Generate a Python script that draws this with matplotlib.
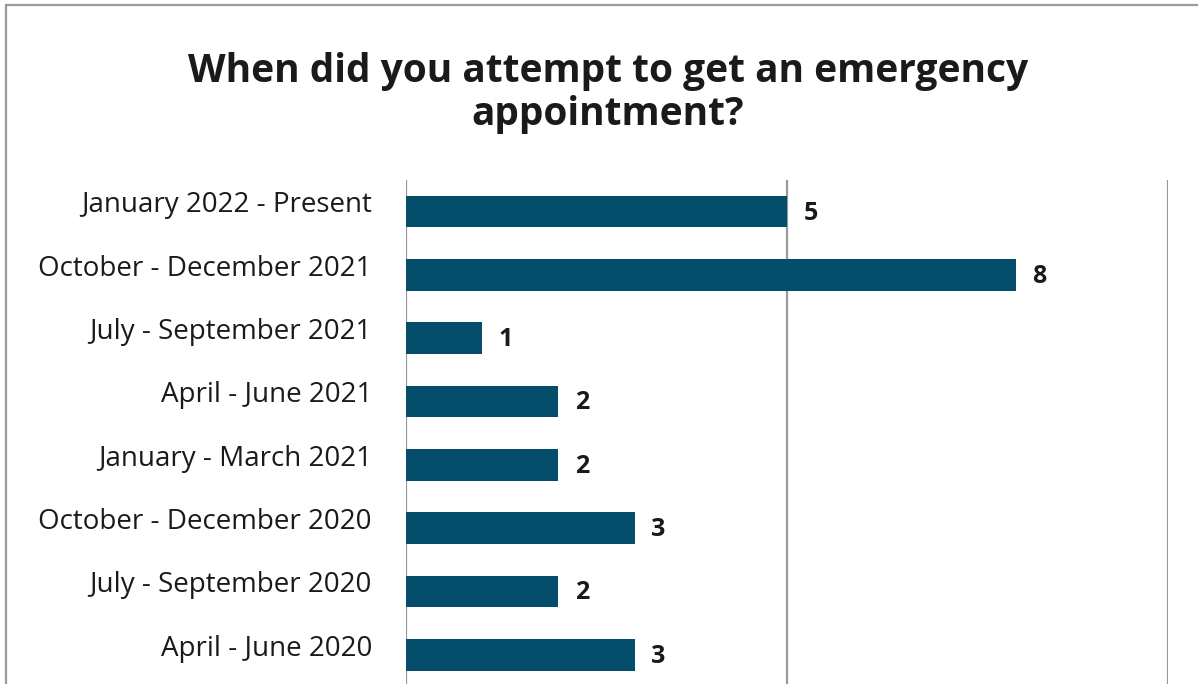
import matplotlib.pyplot as plt
from matplotlib.patches import Rectangle

categories = [
    'January 2022 - Present',
    'October - December 2021',
    'July - September 2021',
    'April - June 2021',
    'January - March 2021',
    'October - December 2020',
    'July - September 2020',
    'April - June 2020',
]
counts = [5, 8, 1, 2, 2, 3, 2, 3]

bar_color = '#044d6b'
grid_color = '#9a9a9a'
text_color = '#1a1a1a'

plt.rcParams['font.family'] = ['Open Sans', 'DejaVu Sans']

fig = plt.figure(figsize=(11.98, 6.84), dpi=100)
ax = fig.add_axes([406 / 1198, 0.0, (1168 - 406) / 1198, (684 - 180) / 684])

pos = list(range(len(categories)))
ax.barh(pos, counts, height=0.5, color=bar_color, zorder=3)

# value labels next to each bar
for y, v in zip(pos, counts):
    ax.annotate(str(v), xy=(v, y), xytext=(12, -1), textcoords='offset points',
                va='center', ha='left', fontsize=18, fontweight='bold',
                color=text_color)

# category labels, sitting a little above bar centre
for y, cat in zip(pos, categories):
    ax.annotate(cat, xy=(0, y), xytext=(-24.5, 4.5), textcoords='offset points',
                va='center', ha='right', fontsize=20, color=text_color,
                annotation_clip=False)

ax.set_xlim(0, 10)
ax.set_ylim(7.46, -0.5)
ax.set_xticks([0, 5, 10])
ax.xaxis.grid(True, color=grid_color, linewidth=1.6, zorder=0)
ax.tick_params(axis='x', length=0, labelbottom=False)
ax.set_yticks([])
for s in ax.spines.values():
    s.set_visible(False)

fig.text(608 / 1198, 1 - 93 / 684,
         'When did you attempt to get an emergency\nappointment?',
         ha='center', va='center', fontsize=28, fontweight='bold',
         color=text_color, linespacing=1.12)

# outer frame
fig.patches.append(Rectangle((6 / 1198, -0.1), 1.2, 1 - 5 / 684 + 0.1,
                             transform=fig.transFigure, fill=False,
                             edgecolor=grid_color, linewidth=1.6))

fig.savefig('out.png', dpi=100)
